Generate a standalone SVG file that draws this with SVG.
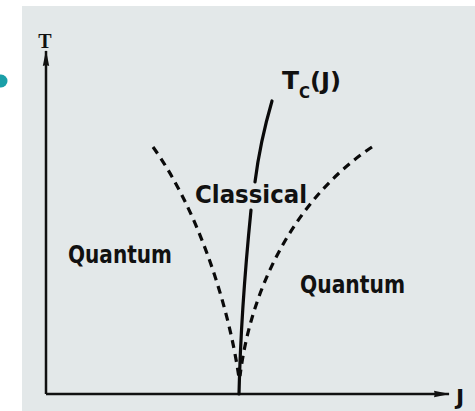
<svg xmlns="http://www.w3.org/2000/svg" width="475" height="411" viewBox="0 0 475 411">
  <style>
    .lbl { font-family: "DejaVu Sans", "Liberation Sans", sans-serif; font-weight: bold; fill: #111; }
    .axis { stroke: #111; stroke-width: 2.5; fill: none; }
    .solid { stroke: #0a0a0a; stroke-width: 3.2; fill: none; stroke-linecap: round; }
    .dash { stroke: #0a0a0a; stroke-width: 3.2; fill: none; stroke-dasharray: 8 6; stroke-linecap: butt; }
  </style>
  <defs>
    <marker id="arrow" markerUnits="userSpaceOnUse" viewBox="0 0 16 8" refX="15" refY="4" markerWidth="16" markerHeight="8" orient="auto">
      <path d="M0,0.8 L16,4 L0,7.2 Q1.5,4 0,0.8 Z" fill="#111"/>
    </marker>
  </defs>
  <rect x="0" y="0" width="475" height="411" fill="#ffffff"/>
  <rect x="22" y="6" width="453" height="405" fill="#e3e8e9"/>
  <circle cx="1" cy="81" r="6.5" fill="#1a9fa8"/>

  <g id="connectors">
    <path class="axis" d="M46,394 L46,51" marker-end="url(#arrow)"/>
    <path class="axis" d="M46,394 L449,394" marker-end="url(#arrow)"/>
    <path class="solid" d="M239,394 C240,350 244,280 251,210"/>
    <path class="solid" d="M255,182 C259,150 265,125 272,101"/>
    <path class="dash" d="M153,147 C195,205 228,300 239,378"/>
    <path class="dash" d="M372,147 C300,195 252,280 240,376"/>
  </g>

  <g id="label-T">
    <text x="45" y="48" text-anchor="middle" font-family="Liberation Serif, serif" font-weight="bold" font-size="20" fill="#111">T</text>
  </g>
  <g id="label-J">
    <text class="lbl" x="456" y="405" font-size="22">J</text>
  </g>
  <g id="label-Tc">
    <text class="lbl" x="282" y="89" font-size="25">T</text>
    <text class="lbl" x="299" y="98" font-size="15">C</text>
    <text class="lbl" x="310" y="89" font-size="23" textLength="31" lengthAdjust="spacingAndGlyphs">(J)</text>
  </g>
  <g id="label-classical">
    <text class="lbl" x="195" y="203" font-size="24" textLength="112" lengthAdjust="spacingAndGlyphs">Classical</text>
  </g>
  <g id="label-quantum-left">
    <text class="lbl" x="68" y="263" font-size="24" textLength="104" lengthAdjust="spacingAndGlyphs">Quantum</text>
  </g>
  <g id="label-quantum-right">
    <text class="lbl" x="300" y="293" font-size="24" textLength="105" lengthAdjust="spacingAndGlyphs">Quantum</text>
  </g>
</svg>
